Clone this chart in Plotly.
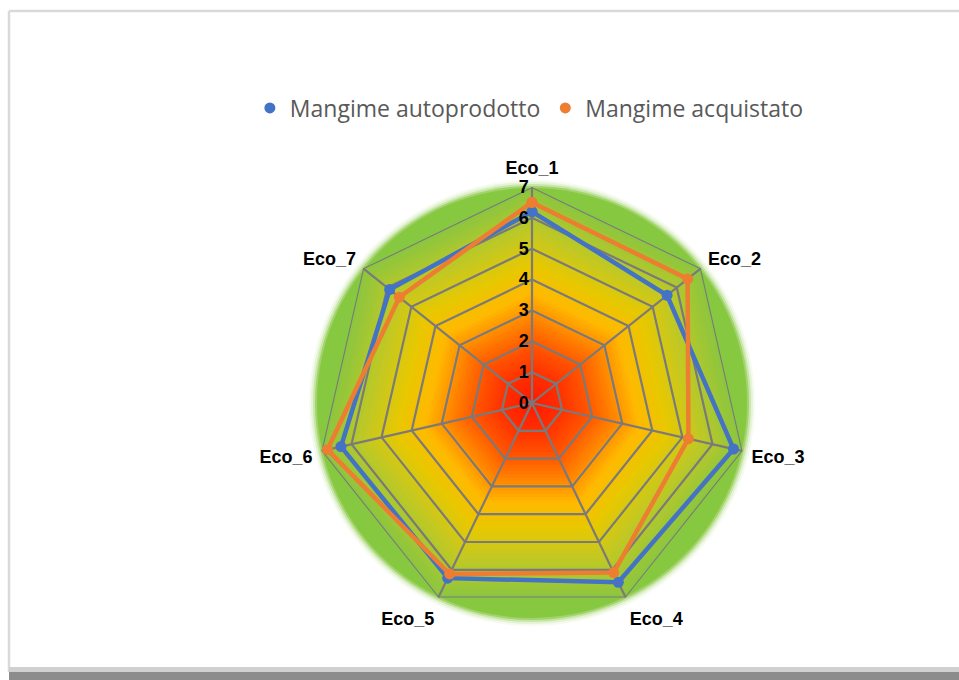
import plotly.graph_objects as go

# ---------------- data ----------------
categories = ["Eco_1", "Eco_2", "Eco_3", "Eco_4", "Eco_5", "Eco_6", "Eco_7"]
autoprodotto = [6.2, 5.6, 6.7, 6.45, 6.3, 6.35, 5.9]
acquistato = [6.5, 6.45, 5.2, 6.1, 6.15, 6.8, 5.5]
radial_ticks = [0, 1, 2, 3, 4, 5, 6, 7]
series_names = ["Mangime autoprodotto", "Mangime acquistato"]

# ---------------- style ----------------
W, H = 959, 680
CX, CY, R = 532, 403, 216
BLUE = "#4472C4"
ORANGE = "#ED7D31"
GRID = "#7A7A7A"
RMAX = radial_ticks[-1]
FONT = "Liberation Sans"

stops = [
    (0.00, (255, 25, 0)),
    (0.14, (255, 45, 0)),
    (0.28, (255, 85, 0)),
    (0.42, (255, 140, 0)),
    (0.52, (255, 185, 0)),
    (0.65, (232, 200, 0)),
    (0.80, (195, 200, 35)),
    (1.00, (140, 198, 63)),
]


def grad(t):
    for (t0, c0), (t1, c1) in zip(stops[:-1], stops[1:]):
        if t <= t1:
            f = (t - t0) / (t1 - t0) if t1 > t0 else 0
            c = [round(a + (b - a) * f) for a, b in zip(c0, c1)]
            return "rgb(%d,%d,%d)" % tuple(c)
    return "rgb(%d,%d,%d)" % stops[-1][1]


closed = categories + [categories[0]]
fig = go.Figure()

# background gradient bands (outer to inner)
N = 60
for i in range(N, 0, -1):
    rr = RMAX * i / N
    fig.add_trace(go.Scatterpolar(
        r=[rr] * len(closed), theta=closed, mode="lines", fill="toself",
        fillcolor=grad(i / N), line=dict(width=0, color=grad(i / N)),
        hoverinfo="skip", showlegend=False))

# grid polygons
for t in radial_ticks[1:]:
    fig.add_trace(go.Scatterpolar(
        r=[t] * len(closed), theta=closed, mode="lines",
        line=dict(color=GRID, width=2.2), hoverinfo="skip", showlegend=False))
# spokes
for c in categories:
    fig.add_trace(go.Scatterpolar(
        r=[0, RMAX], theta=[c, c], mode="lines",
        line=dict(color=GRID, width=2.2), hoverinfo="skip", showlegend=False))

# data series
for vals, col, name in [(autoprodotto, BLUE, series_names[0]), (acquistato, ORANGE, series_names[1])]:
    fig.add_trace(go.Scatterpolar(
        r=vals + [vals[0]], theta=closed, mode="lines+markers", name=name,
        line=dict(color=col, width=4.5), marker=dict(color=col, size=11),
        showlegend=False))

# legend-only markers
for col, name in [(BLUE, series_names[0]), (ORANGE, series_names[1])]:
    fig.add_trace(go.Scatterpolar(
        r=[None], theta=[categories[0]], mode="markers", name=name,
        marker=dict(color=col, size=11), showlegend=True))


# frame + glow shapes
def px(x):
    return x / W


def py(y):
    return 1 - y / H


shapes = []
for rad, op in [(223, 0.08), (221, 0.15), (219, 0.3), (217, 0.6), (215, 1.0)]:
    shapes.append(dict(type="circle", xref="paper", yref="paper", layer="below",
                       x0=px(CX - rad), x1=px(CX + rad), y0=py(CY + rad), y1=py(CY - rad),
                       fillcolor="rgba(135,200,65,%.2f)" % op, line=dict(width=0)))
shapes += [
    dict(type="line", xref="paper", yref="paper", x0=px(9), x1=px(9), y0=py(11), y1=py(672),
         line=dict(color="#D9D9D9", width=2.5)),
    dict(type="line", xref="paper", yref="paper", x0=px(9), x1=1.0, y0=py(11), y1=py(11),
         line=dict(color="#D9D9D9", width=2.5)),
    dict(type="rect", xref="paper", yref="paper", x0=px(9), x1=1.0, y0=py(667), y1=py(672),
         fillcolor="#D0D0D0", line=dict(width=0)),
    dict(type="rect", xref="paper", yref="paper", x0=px(9), x1=1.0, y0=0, y1=py(672),
         fillcolor="#8C8C8C", line=dict(width=0)),
]

fig.update_layout(
    width=W, height=H,
    margin=dict(l=0, r=0, t=0, b=0),
    paper_bgcolor="white", plot_bgcolor="white",
    shapes=shapes,
    polar=dict(
        domain=dict(x=[px(CX - R), px(CX + R)], y=[py(CY + R), py(CY - R)]),
        bgcolor="rgba(0,0,0,0)",
        gridshape="linear",
        radialaxis=dict(range=[0, RMAX], visible=True, showgrid=False, showline=False,
                        angle=90, side="counterclockwise", tickangle=90,
                        ticks="", tickvals=radial_ticks,
                        ticktext=["<b>%d</b>" % t for t in radial_ticks],
                        tickfont=dict(size=18, color="#000000", family=FONT),
                        layer="above traces"),
        angularaxis=dict(rotation=90, direction="clockwise", showgrid=False, showline=False,
                         ticks="outside", ticklen=5, tickcolor="rgba(0,0,0,0)",
                         categoryorder="array", categoryarray=categories,
                         tickvals=categories, ticktext=["<b>%s</b>" % c for c in categories],
                         tickfont=dict(size=18, color="#000000", family=FONT)),
    ),
    legend=dict(orientation="h", x=0.552, xanchor="center", y=py(108), yanchor="middle",
                font=dict(size=23, color="#595959", family="Open Sans"),
                itemwidth=30, bgcolor="rgba(0,0,0,0)", traceorder="normal"),
    showlegend=True,
)

fig.write_html("out.html", config={"displayModeBar": False},
               post_script="document.body.style.margin='0';document.body.style.overflow='hidden';")
